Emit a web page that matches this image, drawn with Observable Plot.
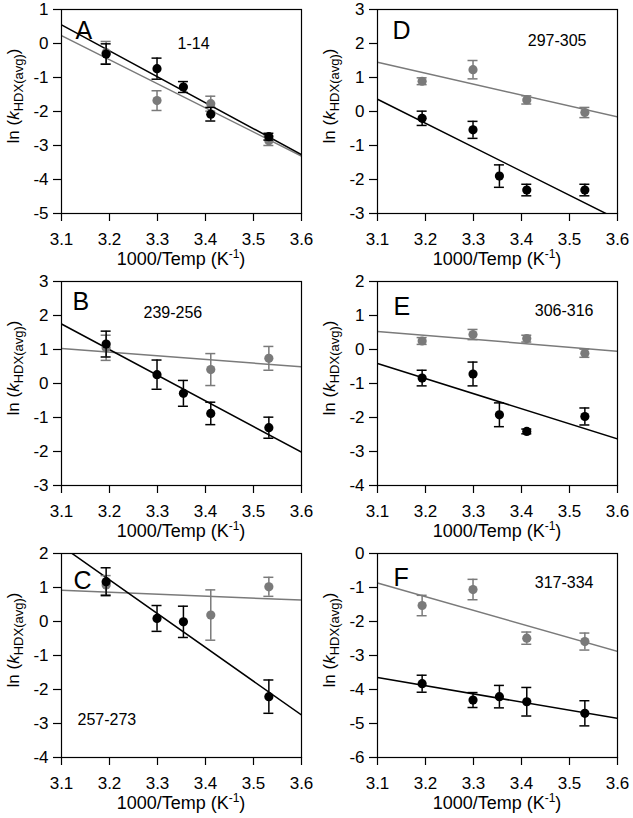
<!DOCTYPE html>
<html><head><meta charset="utf-8">
<script src="https://cdn.jsdelivr.net/npm/d3@7"></script>
<script src="https://cdn.jsdelivr.net/npm/@observablehq/plot@0.6"></script>
<style>
body{margin:0;background:#fff;}
#grid{display:grid;grid-template-columns:316px 317px;grid-auto-rows:272px;width:633px;}
#grid svg{display:block;}
</style></head><body><div id="grid"></div>
<script>
// x values: 1000/Temp (K^-1)
const invTemp = [3.193, 3.299, 3.354, 3.411, 3.532];
const xTicks = [3.1, 3.2, 3.3, 3.4, 3.5, 3.6];
const fitX = [3.1, 3.6];

// Panel A: 1-14
const A_black = [-0.31, -0.74, -1.28, -2.08, -2.74];
const A_blackErr = [0.30, 0.31, 0.16, 0.20, 0.10];
const A_gray = [-0.27, -1.68, null, -1.77, -2.86];
const A_grayErr = [0.33, 0.29, null, 0.22, 0.14];
const A_blackFit = [0.55, -3.27];
const A_grayFit = [0.23, -3.31];
const A_yTicks = [1, 0, -1, -2, -3, -4, -5];

// Panel D: 297-305
const D_black = [-0.20, -0.54, -1.90, -2.31, -2.31];
const D_blackErr = [0.21, 0.25, 0.33, 0.17, 0.17];
const D_gray = [0.89, 1.23, null, 0.34, -0.03];
const D_grayErr = [0.10, 0.27, null, 0.12, 0.15];
const D_blackFit = [0.36, -3.17];
const D_grayFit = [1.45, -0.16];
const D_yTicks = [3, 2, 1, 0, -1, -2, -3];

// Panel B: 239-256
const B_black = [1.16, 0.26, -0.29, -0.88, -1.30];
const B_blackErr = [0.38, 0.43, 0.38, 0.33, 0.31];
const B_gray = [1.05, null, null, 0.41, 0.74];
const B_grayErr = [0.37, null, null, 0.47, 0.35];
const B_blackFit = [1.75, -2.02];
const B_grayFit = [1.03, 0.49];
const B_yTicks = [3, 2, 1, 0, -1, -2, -3];

// Panel E: 306-316
const E_black = [-0.84, -0.72, -1.92, -2.41, -1.97];
const E_blackErr = [0.23, 0.35, 0.35, 0.07, 0.25];
const E_gray = [0.25, 0.44, null, 0.32, -0.11];
const E_grayErr = [0.10, 0.15, null, 0.10, 0.12];
const E_blackFit = [-0.41, -2.63];
const E_grayFit = [0.53, -0.05];
const E_yTicks = [2, 1, 0, -1, -2, -3, -4];

// Panel C: 257-273
const C_black = [1.17, 0.09, -0.01, null, -2.21];
const C_blackErr = [0.41, 0.38, 0.46, null, 0.49];
const C_gray = [1.07, null, null, 0.19, 1.02];
const C_grayErr = [0.28, null, null, 0.74, 0.28];
const C_blackFit = [2.22, -2.75];
const C_grayFit = [0.92, 0.63];
const C_yTicks = [2, 1, 0, -1, -2, -3, -4];

// Panel F: 317-334
const F_black = [-3.83, -4.31, -4.21, -4.36, -4.70];
const F_blackErr = [0.25, 0.22, 0.33, 0.42, 0.37];
const F_gray = [-1.53, -1.06, null, -2.49, -2.59];
const F_grayErr = [0.30, 0.30, null, 0.18, 0.25];
const F_blackFit = [-3.65, -4.85];
const F_grayFit = [-0.87, -2.88];
const F_yTicks = [0, -1, -2, -3, -4, -5, -6];

const panelLetters = ["A", "D", "B", "E", "C", "F"];
const peptides = ["1-14", "297-305", "239-256", "306-316", "257-273", "317-334"];

const panels = [
  {black: A_black, blackErr: A_blackErr, gray: A_gray, grayErr: A_grayErr, blackFit: A_blackFit, grayFit: A_grayFit, yTicks: A_yTicks},
  {black: D_black, blackErr: D_blackErr, gray: D_gray, grayErr: D_grayErr, blackFit: D_blackFit, grayFit: D_grayFit, yTicks: D_yTicks},
  {black: B_black, blackErr: B_blackErr, gray: B_gray, grayErr: B_grayErr, blackFit: B_blackFit, grayFit: B_grayFit, yTicks: B_yTicks},
  {black: E_black, blackErr: E_blackErr, gray: E_gray, grayErr: E_grayErr, blackFit: E_blackFit, grayFit: E_grayFit, yTicks: E_yTicks},
  {black: C_black, blackErr: C_blackErr, gray: C_gray, grayErr: C_grayErr, blackFit: C_blackFit, grayFit: C_grayFit, yTicks: C_yTicks},
  {black: F_black, blackErr: F_blackErr, gray: F_gray, grayErr: F_grayErr, blackFit: F_blackFit, grayFit: F_grayFit, yTicks: F_yTicks}
];

// layout of in-frame labels (pixel offsets from frame corner)
const letterPos = [[14, 12], [15, 12], [11, 11], [16, 16], [12, 18], [16, 15]];
const pepPos = [
  {anchor: "top-left", dx: 116, dy: 28},
  {anchor: "top-right", dx: -31, dy: 25},
  {anchor: "top-left", dx: 82, dy: 25},
  {anchor: "top-right", dx: -24, dy: 23},
  {anchor: "top-left", dx: 16, dy: 160},
  {anchor: "top-right", dx: -24, dy: 23}
];

const FONT = "'Liberation Sans', Arial, Helvetica, sans-serif";
const GRAY = "#7a7a7a";
const W = 316, H = 272, ML = 61, MR = 15, MT = 9, MB = 59;

function series(vals, errs) {
  return invTemp.map((x, i) => ({x, y: vals[i], e: errs[i]})).filter(d => d.y != null);
}
function fit(vals) {
  return fitX.map((x, i) => ({x, y: vals[i]}));
}
function errMarks(data, color) {
  return [
    Plot.ruleX(data, {x: "x", y1: d => d.y - d.e, y2: d => d.y + d.e, stroke: color, strokeWidth: 1.5}),
    Plot.ruleY(data, {y: d => d.y - d.e, x1: "x", x2: "x", insetLeft: -5, insetRight: -5, stroke: color, strokeWidth: 1.5}),
    Plot.ruleY(data, {y: d => d.y + d.e, x1: "x", x2: "x", insetLeft: -5, insetRight: -5, stroke: color, strokeWidth: 1.5})
  ];
}

const grid = document.getElementById("grid");
panels.forEach((p, k) => {
  const yT = p.yTicks;
  const blk = series(p.black, p.blackErr);
  const gry = series(p.gray, p.grayErr);
  const svg = Plot.plot({
    width: W, height: H,
    marginLeft: ML, marginRight: MR, marginTop: MT, marginBottom: MB,
    style: {fontFamily: FONT, color: "black", background: "white", overflow: "visible"},
    x: {domain: [3.1, 3.6]},
    y: {domain: [d3.min(yT), d3.max(yT)]},
    marks: [
      Plot.line(fit(p.grayFit), {x: "x", y: "y", stroke: GRAY, strokeWidth: 1.5, clip: true}),
      Plot.line(fit(p.blackFit), {x: "x", y: "y", stroke: "black", strokeWidth: 1.5, clip: true}),
      ...errMarks(gry, GRAY),
      Plot.dot(gry, {x: "x", y: "y", r: 4.6, fill: GRAY, stroke: "none"}),
      ...errMarks(blk, "black"),
      Plot.dot(blk, {x: "x", y: "y", r: 4.6, fill: "black", stroke: "none"}),
      Plot.frame({stroke: "black", strokeWidth: 1.2}),
      Plot.axisX(xTicks, {tickSize: 8, tickPadding: 11, tickFormat: d => d.toFixed(1), fontSize: 17, label: null, strokeWidth: 1.2}),
      Plot.axisY(yT, {tickSize: 8, tickPadding: 5, tickFormat: d => String(d), fontSize: 17, label: null, strokeWidth: 1.2}),
      Plot.text([panelLetters[k]], {text: d => d, frameAnchor: "top-left", dx: letterPos[k][0], dy: letterPos[k][1], lineAnchor: "top", fontSize: 25, fill: "black"}),
      Plot.text([peptides[k]], {text: d => d, frameAnchor: pepPos[k].anchor, dx: pepPos[k].dx, dy: pepPos[k].dy, lineAnchor: "top", fontSize: 16, fill: "black"})
    ]
  });
  const s = d3.select(svg);
  // x axis label
  const xl = s.append("text").attr("x", ML + (W - ML - MR) / 2).attr("y", 265)
    .attr("text-anchor", "middle").attr("font-size", 18).attr("font-family", FONT).attr("fill", "black");
  xl.append("tspan").text("1000/Temp (K");
  xl.append("tspan").attr("font-size", 12).attr("dy", -7).text("-1");
  xl.append("tspan").attr("dy", 7).text(")");
  // y axis label
  const yl = s.append("text").attr("transform", `translate(19,96) rotate(-90)`)
    .attr("text-anchor", "middle").attr("font-size", 17).attr("font-family", FONT).attr("fill", "black");
  yl.append("tspan").text("ln (");
  yl.append("tspan").attr("font-style", "italic").text("k");
  yl.append("tspan").attr("font-size", 13).attr("dy", 4).text("HDX(avg)");
  yl.append("tspan").attr("dy", -4).text(")");
  grid.appendChild(svg);
});
</script>
</body></html>
